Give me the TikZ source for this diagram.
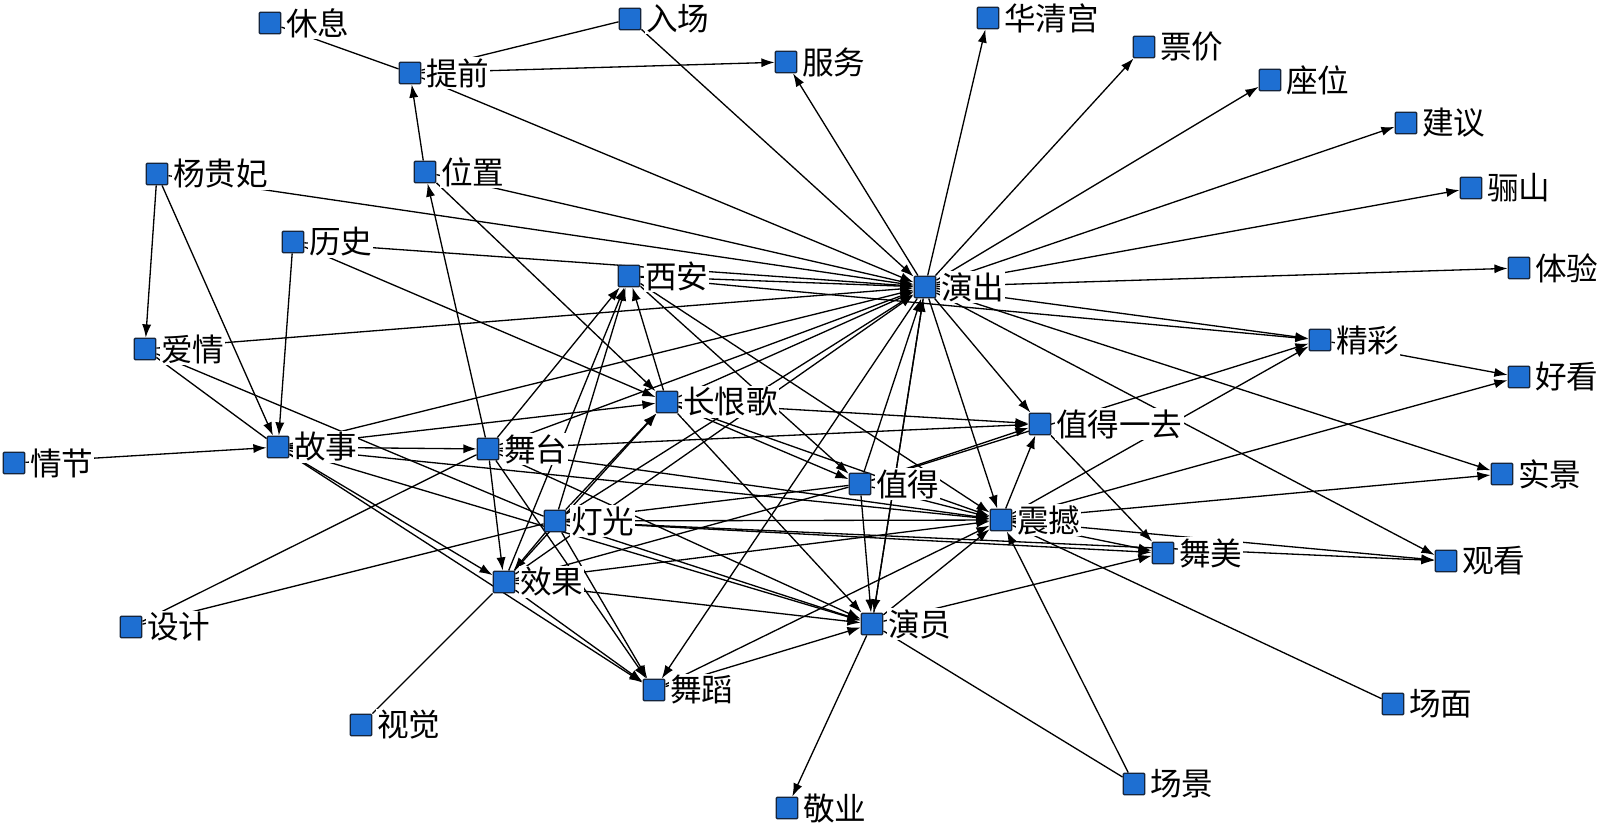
\documentclass[tikz,border=0pt]{standalone}
\usepackage{fontspec}
\setmainfont{Noto Sans CJK SC}
\usetikzlibrary{arrows.meta}
\definecolor{nodeblue}{HTML}{1E6FD2}
\definecolor{nodeedge}{HTML}{14243C}
\pgfdeclarelayer{edges}
\pgfsetlayers{edges,main}
\newcommand\mknode[4]{\node[sq] (#1) at (#2,#3) {}; \node[lbl] (#1-l) at ([xshift=1.8pt]#1.east) {#4};}
\begin{document}
\begin{tikzpicture}[x=0.02cm,y=-0.02cm,
  sq/.style={draw=nodeedge, line width=0.8pt, fill=nodeblue, minimum size=0.43cm, inner sep=0pt, rounded corners=0.6pt},
  lbl/.style={font=\fontsize{18}{18}\selectfont, fill=white, inner sep=0.6pt, anchor=west},
  e/.style={line width=0.75pt, black, -{Latex[length=7.5pt,width=5.2pt]}},
  u/.style={line width=0.75pt, black}]
\useasboundingbox (0,0) rectangle (1600,826);
\mknode{xiuxi}{270}{23}{休息}
\mknode{ruchang}{630}{19}{入场}
\mknode{tiqian}{410}{73}{提前}
\mknode{fuwu}{786}{62}{服务}
\mknode{huaqing}{988}{18}{华清宫}
\mknode{piaojia}{1144}{47}{票价}
\mknode{zuowei}{1270}{80}{座位}
\mknode{jianyi}{1406}{123}{建议}
\mknode{lishan}{1471}{188}{骊山}
\mknode{tiyan}{1519}{268}{体验}
\mknode{yangguifei}{157}{174}{杨贵妃}
\mknode{weizhi}{425}{172}{位置}
\mknode{lishi}{293}{242}{历史}
\mknode{xian}{629}{276}{西安}
\mknode{yanchu}{925}{287}{演出}
\mknode{aiqing}{145}{349}{爱情}
\mknode{jingcai}{1320}{340}{精彩}
\mknode{chg}{667}{402}{长恨歌}
\mknode{haokan}{1519}{377}{好看}
\mknode{zdyq}{1040}{424}{值得一去}
\mknode{qingjie}{14}{463}{情节}
\mknode{gushi}{278}{447}{故事}
\mknode{wutai}{488}{449}{舞台}
\mknode{zhide}{860}{484}{值得}
\mknode{shijing}{1502}{474}{实景}
\mknode{dengguang}{555}{521}{灯光}
\mknode{zhenhan}{1001}{520}{震撼}
\mknode{wumei}{1163}{553}{舞美}
\mknode{guankan}{1446}{561}{观看}
\mknode{xiaoguo}{504}{582}{效果}
\mknode{sheji}{131}{627}{设计}
\mknode{yanyuan}{872}{624}{演员}
\mknode{wudao}{654}{690}{舞蹈}
\mknode{changmian}{1393}{704}{场面}
\mknode{shijue}{361}{725}{视觉}
\mknode{changjing}{1134}{784}{场景}
\mknode{jingye}{787}{808}{敬业}
\begin{pgfonlayer}{edges}
\foreach \a/\b in {xiuxi/tiqian, tiqian/ruchang, sheji/wutai, sheji/dengguang, shijue/xiaoguo,
  zhenhan/changmian, yanyuan/changjing, dengguang/zhide, xiaoguo/zhide, aiqing/gushi, aiqing/dengguang}
  \draw[u] (\a) -- (\b);
\foreach \a/\b in {tiqian/fuwu, weizhi/tiqian, wutai/weizhi,
  ruchang/yanchu, tiqian/yanchu, weizhi/yanchu, yangguifei/yanchu, lishi/yanchu, xian/yanchu,
  aiqing/yanchu, gushi/yanchu, wutai/yanchu, chg/yanchu, dengguang/yanchu, zhide/yanchu,
  yanyuan/yanchu, xiaoguo/yanchu,
  yanchu/fuwu, yanchu/huaqing, yanchu/piaojia, yanchu/zuowei, yanchu/jianyi, yanchu/lishan,
  yanchu/tiyan, yanchu/jingcai, yanchu/wudao, yanchu/zhenhan, yanchu/zdyq, yanchu/guankan,
  yanchu/shijing, yanchu/yanyuan,
  xian/jingcai, jingcai/haokan, zhide/jingcai, zhenhan/jingcai,
  zhenhan/haokan, zhenhan/shijing, zhenhan/guankan, dengguang/guankan,
  zdyq/wumei, yanyuan/wumei, dengguang/wumei, zhenhan/wumei,
  changjing/zhenhan, yanyuan/jingye, zhide/yanyuan,
  chg/zdyq, wutai/zdyq, zhide/zdyq, zhenhan/zdyq,
  zhide/zhenhan, chg/zhenhan, wutai/zhenhan, gushi/zhenhan, dengguang/zhenhan,
  xiaoguo/zhenhan, yanyuan/zhenhan, xian/zhenhan, wudao/zhenhan,
  chg/yanyuan, wudao/yanyuan, dengguang/yanyuan, wutai/yanyuan, xiaoguo/yanyuan, gushi/yanyuan,
  xian/zhide, chg/zhide,
  yangguifei/aiqing, yangguifei/gushi, lishi/gushi, qingjie/gushi,
  lishi/chg, weizhi/chg,
  gushi/wutai, gushi/chg, gushi/xiaoguo, gushi/wudao, xiaoguo/wudao,
  wutai/xiaoguo, dengguang/xiaoguo, wutai/wudao, dengguang/wudao,
  wutai/xian, dengguang/xian, chg/xian, xiaoguo/xian,
  dengguang/chg, xiaoguo/chg}
  \draw[e] (\a) -- (\b);
\end{pgfonlayer}
\end{tikzpicture}
\end{document}
